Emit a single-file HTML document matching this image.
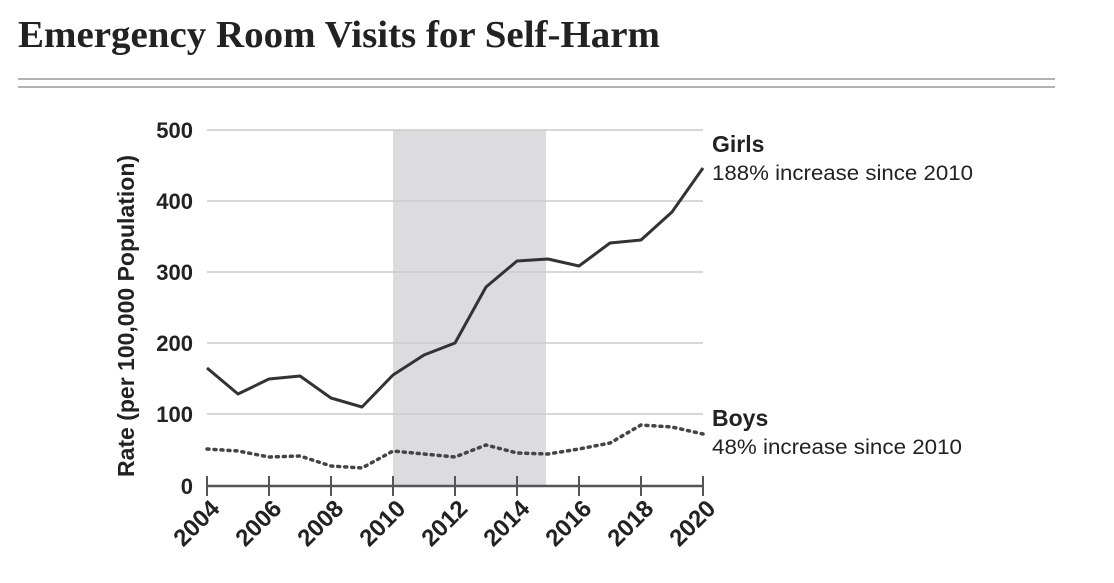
<!DOCTYPE html>
<html><head><style>
body{margin:0;background:#fff;width:1114px;height:578px;overflow:hidden;}
</style></head><body>
<svg width="1114" height="578" xmlns="http://www.w3.org/2000/svg">
<text x="18" y="47" font-family="Liberation Serif, serif" font-weight="bold" font-size="38" fill="#222" textLength="642" lengthAdjust="spacingAndGlyphs">Emergency Room Visits for Self-Harm</text>
<line x1="18" y1="79" x2="1055" y2="79" stroke="#999" stroke-width="1.5"/>
<line x1="18" y1="87" x2="1055" y2="87" stroke="#999" stroke-width="1.5"/>
<rect x="393" y="130" width="153" height="356" fill="#dcdcde"/>
<g stroke="#ccc" stroke-width="1.5">
<line x1="207" y1="130" x2="703" y2="130"/><line x1="207" y1="201" x2="703" y2="201"/>
<line x1="207" y1="272" x2="703" y2="272"/><line x1="207" y1="343" x2="703" y2="343"/>
<line x1="207" y1="414" x2="703" y2="414"/></g>
<g font-family="Liberation Sans, sans-serif" font-weight="bold" font-size="22" fill="#222" text-anchor="end">
<text x="193" y="138">500</text><text x="193" y="209">400</text><text x="193" y="280">300</text>
<text x="193" y="351">200</text><text x="193" y="422">100</text><text x="193" y="494">0</text></g>
<text transform="translate(134,316) rotate(-90)" text-anchor="middle" font-family="Liberation Sans, sans-serif" font-weight="bold" font-size="23" fill="#222">Rate (per 100,000 Population)</text>
<line x1="207" y1="486" x2="703" y2="486" stroke="#555" stroke-width="2.5"/>
<g stroke="#555" stroke-width="2">
<line x1="207" y1="476" x2="207" y2="496"/><line x1="269" y1="476" x2="269" y2="496"/>
<line x1="331" y1="476" x2="331" y2="496"/><line x1="393" y1="476" x2="393" y2="496"/>
<line x1="455" y1="476" x2="455" y2="496"/><line x1="517" y1="476" x2="517" y2="496"/>
<line x1="579" y1="476" x2="579" y2="496"/><line x1="641" y1="476" x2="641" y2="496"/>
<line x1="703" y1="476" x2="703" y2="496"/></g>
<g font-family="Liberation Sans, sans-serif" font-weight="bold" font-size="24" fill="#222" text-anchor="end">
<text transform="translate(221,510) rotate(-45)">2004</text>
<text transform="translate(283,510) rotate(-45)">2006</text>
<text transform="translate(345,510) rotate(-45)">2008</text>
<text transform="translate(407,510) rotate(-45)">2010</text>
<text transform="translate(469,510) rotate(-45)">2012</text>
<text transform="translate(531,510) rotate(-45)">2014</text>
<text transform="translate(593,510) rotate(-45)">2016</text>
<text transform="translate(655,510) rotate(-45)">2018</text>
<text transform="translate(717,510) rotate(-45)">2020</text></g>
<polyline fill="none" stroke="#333" stroke-width="3" stroke-linejoin="round" points="207,368 238,394 269,379 300,376 331,398 362,407 393,375 424,355 455,343 486,287 517,261 548,259 579,266 610,243 641,240 672,212 703,168"/>
<polyline fill="none" stroke="#444" stroke-width="3.5" stroke-dasharray="2,5" stroke-linecap="round" points="207,449 238,451 269,457 300,456 331,466 362,468 393,451 424,454 455,457 486,445 517,453 548,454 579,449 610,443 641,425 672,427 703,434"/>
<g font-family="Liberation Sans, sans-serif" fill="#222">
<text x="712" y="152" font-weight="bold" font-size="23">Girls</text>
<text x="712" y="180" font-size="21" textLength="261" lengthAdjust="spacingAndGlyphs">188% increase since 2010</text>
<text x="712" y="426" font-weight="bold" font-size="23">Boys</text>
<text x="712" y="454" font-size="21" textLength="250" lengthAdjust="spacingAndGlyphs">48% increase since 2010</text></g>
</svg>
</body></html>
